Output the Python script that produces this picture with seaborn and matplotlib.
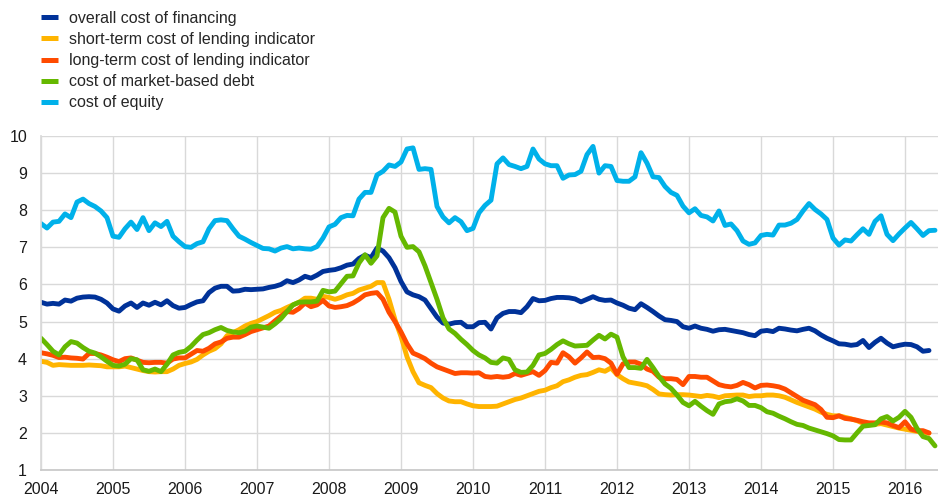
import matplotlib
matplotlib.use('Agg')
import matplotlib.pyplot as plt
from matplotlib.lines import Line2D
import numpy as np
import pandas as pd
import seaborn as sns

# monthly series, starting January 2004
overall = [5.52, 5.47, 5.49, 5.47, 5.58, 5.55, 5.63, 5.66, 5.67, 5.66, 5.60, 5.50,
           5.34, 5.28, 5.42, 5.50, 5.38, 5.50, 5.44, 5.52, 5.45, 5.56, 5.43, 5.36,
           5.38, 5.46, 5.53, 5.56, 5.78, 5.90, 5.95, 5.95, 5.82, 5.83, 5.87, 5.86,
           5.87, 5.88, 5.92, 5.95, 6.00, 6.10, 6.05, 6.12, 6.22, 6.17, 6.25, 6.35,
           6.38, 6.40, 6.45, 6.52, 6.55, 6.70, 6.79, 6.72, 6.98, 6.90, 6.72, 6.45,
           6.08, 5.80, 5.72, 5.67, 5.58, 5.35, 5.12, 4.96, 4.93, 4.97, 4.98, 4.86,
           4.86, 4.97, 4.98, 4.80, 5.10, 5.22, 5.27, 5.27, 5.24, 5.40, 5.62, 5.56,
           5.57, 5.62, 5.65, 5.65, 5.64, 5.61, 5.53, 5.60, 5.67, 5.60, 5.57, 5.58,
           5.50, 5.44, 5.36, 5.32, 5.48, 5.38, 5.27, 5.15, 5.05, 5.03, 5.00, 4.86,
           4.82, 4.88, 4.82, 4.79, 4.74, 4.78, 4.79, 4.76, 4.73, 4.70, 4.65, 4.62,
           4.74, 4.76, 4.73, 4.82, 4.80, 4.77, 4.75, 4.79, 4.82, 4.75, 4.64, 4.55,
           4.48, 4.40, 4.39, 4.36, 4.38, 4.49, 4.30, 4.44, 4.55, 4.42, 4.32, 4.36,
           4.39, 4.38, 4.32, 4.20, 4.22]

short_term = [3.93, 3.90, 3.82, 3.84, 3.83, 3.82, 3.82, 3.82, 3.83, 3.82, 3.81, 3.78,
              3.78, 3.78, 3.80, 3.76, 3.72, 3.68, 3.65, 3.64, 3.65, 3.65, 3.72, 3.82,
              3.87, 3.91, 3.98, 4.10, 4.20, 4.27, 4.40, 4.62, 4.70, 4.78, 4.88, 4.95,
              5.00, 5.08, 5.16, 5.25, 5.30, 5.38, 5.45, 5.52, 5.63, 5.63, 5.60, 5.68,
              5.65, 5.60, 5.65, 5.72, 5.76, 5.85, 5.90, 5.95, 6.05, 6.05, 5.60, 5.05,
              4.60, 4.05, 3.65, 3.35, 3.28, 3.22, 3.06, 2.94, 2.86, 2.84, 2.84, 2.78,
              2.73, 2.71, 2.71, 2.71, 2.72, 2.78, 2.84, 2.90, 2.94, 3.00, 3.06, 3.12,
              3.15, 3.22, 3.27, 3.38, 3.43, 3.50, 3.55, 3.57, 3.63, 3.70, 3.66, 3.75,
              3.57, 3.46, 3.37, 3.34, 3.31, 3.27, 3.17, 3.05, 3.03, 3.02, 3.03, 3.03,
              3.02, 3.00, 2.98, 3.01, 2.99, 2.95, 3.00, 3.01, 3.02, 3.02, 2.98, 3.00,
              3.00, 3.02, 3.02, 3.00, 2.96, 2.89, 2.82, 2.76, 2.70, 2.64, 2.56, 2.50,
              2.46, 2.46, 2.42, 2.38, 2.33, 2.26, 2.22, 2.23, 2.25, 2.21, 2.17, 2.13,
              2.10, 2.07, 2.04, 2.02, 1.99]

long_term = [4.16, 4.13, 4.09, 4.03, 4.04, 4.02, 4.01, 3.99, 4.14, 4.14, 4.10, 4.04,
             3.97, 3.92, 4.00, 4.02, 3.96, 3.90, 3.89, 3.90, 3.90, 3.88, 3.99, 4.02,
             4.02, 4.12, 4.22, 4.20, 4.28, 4.40, 4.45, 4.55, 4.58, 4.58, 4.65, 4.73,
             4.78, 4.83, 4.88, 5.02, 5.15, 5.27, 5.25, 5.35, 5.50, 5.40, 5.45, 5.57,
             5.42, 5.38, 5.40, 5.43, 5.50, 5.60, 5.72, 5.76, 5.78, 5.60, 5.25, 5.00,
             4.72, 4.40, 4.15, 4.08, 4.00, 3.88, 3.78, 3.72, 3.66, 3.60, 3.62, 3.62,
             3.61, 3.62, 3.52, 3.50, 3.52, 3.50, 3.52, 3.60, 3.55, 3.60, 3.65, 3.55,
             3.68, 3.90, 3.88, 4.16, 4.05, 3.88, 4.02, 4.18, 4.03, 4.04, 4.00, 3.88,
             3.58, 3.86, 3.91, 3.91, 3.85, 3.72, 3.66, 3.50, 3.46, 3.46, 3.44, 3.30,
             3.52, 3.52, 3.50, 3.50, 3.40, 3.30, 3.26, 3.24, 3.28, 3.36, 3.30, 3.21,
             3.28, 3.29, 3.27, 3.24, 3.18, 3.08, 2.98, 2.88, 2.82, 2.76, 2.63, 2.42,
             2.41, 2.46, 2.39, 2.37, 2.34, 2.30, 2.27, 2.27, 2.29, 2.27, 2.20, 2.14,
             2.30, 2.10, 2.06, 2.06, 2.00]

market_debt = [4.55, 4.38, 4.20, 4.10, 4.32, 4.46, 4.42, 4.30, 4.20, 4.15, 4.05, 3.93,
               3.82, 3.80, 3.85, 4.00, 3.97, 3.70, 3.66, 3.72, 3.65, 3.85, 4.10, 4.17,
               4.20, 4.33, 4.50, 4.65, 4.70, 4.78, 4.84, 4.76, 4.72, 4.70, 4.74, 4.85,
               4.88, 4.85, 4.82, 4.94, 5.08, 5.27, 5.45, 5.52, 5.53, 5.53, 5.55, 5.84,
               5.80, 5.82, 6.02, 6.22, 6.23, 6.58, 6.80, 6.57, 6.77, 7.80, 8.05, 7.95,
               7.30, 7.00, 7.02, 6.88, 6.50, 6.05, 5.60, 5.10, 4.80, 4.68, 4.52, 4.38,
               4.22, 4.10, 4.02, 3.90, 3.88, 4.02, 3.98, 3.70, 3.63, 3.64, 3.82, 4.10,
               4.14, 4.25, 4.38, 4.48, 4.40, 4.34, 4.35, 4.36, 4.50, 4.63, 4.53, 4.66,
               4.58, 4.05, 3.76, 3.76, 3.74, 3.98, 3.76, 3.52, 3.32, 3.20, 3.02, 2.82,
               2.73, 2.85, 2.72, 2.60, 2.50, 2.78, 2.84, 2.86, 2.92, 2.86, 2.74, 2.74,
               2.68, 2.57, 2.53, 2.45, 2.38, 2.30, 2.23, 2.20, 2.13, 2.08, 2.03, 1.98,
               1.92, 1.82, 1.81, 1.81, 2.00, 2.18, 2.20, 2.22, 2.38, 2.44, 2.32, 2.42,
               2.58, 2.42, 2.12, 1.90, 1.85, 1.65]

equity = [7.64, 7.52, 7.68, 7.70, 7.90, 7.80, 8.22, 8.30, 8.18, 8.10, 7.98, 7.80,
          7.30, 7.27, 7.50, 7.68, 7.48, 7.80, 7.45, 7.66, 7.56, 7.70, 7.30, 7.15,
          7.02, 7.00, 7.10, 7.15, 7.50, 7.72, 7.74, 7.72, 7.50, 7.30, 7.22, 7.13,
          7.05, 6.97, 6.96, 6.90, 6.98, 7.02, 6.96, 6.98, 6.96, 6.95, 7.02, 7.25,
          7.55, 7.62, 7.80, 7.86, 7.85, 8.30, 8.48, 8.48, 8.95, 9.05, 9.22, 9.18,
          9.30, 9.65, 9.68, 9.10, 9.12, 9.10, 8.10, 7.82, 7.66, 7.80, 7.69, 7.45,
          7.51, 7.93, 8.13, 8.27, 9.25, 9.41, 9.23, 9.18, 9.12, 9.18, 9.65, 9.38,
          9.25, 9.20, 9.20, 8.86, 8.95, 8.96, 9.05, 9.50, 9.72, 9.00, 9.20, 9.18,
          8.80, 8.78, 8.78, 8.90, 9.55, 9.27, 8.90, 8.88, 8.64, 8.48, 8.40, 8.11,
          7.93, 8.04, 7.86, 7.82, 7.71, 7.98, 7.59, 7.63, 7.45, 7.17, 7.08, 7.12,
          7.32, 7.35, 7.33, 7.60, 7.60, 7.65, 7.75, 7.98, 8.18, 8.02, 7.90, 7.75,
          7.25, 7.06, 7.20, 7.17, 7.34, 7.50, 7.35, 7.70, 7.85, 7.35, 7.18, 7.36,
          7.52, 7.67, 7.50, 7.32, 7.45, 7.46]

labels = ['overall cost of financing', 'short-term cost of lending indicator',
          'long-term cost of lending indicator', 'cost of market-based debt',
          'cost of equity']
colors = ['#003299', '#ffb400', '#ff4b00', '#65b800', '#00b1ea']
years = list(range(2004, 2017))

frames = []
for name, vals in zip(labels, [overall, short_term, long_term, market_debt, equity]):
    t = 2004 + np.arange(len(vals)) / 12.0
    frames.append(pd.DataFrame({'year': t, 'value': vals, 'series': name}))
df = pd.concat(frames, ignore_index=True)

sns.set_theme(style='white')
plt.rcParams['font.family'] = ['Liberation Sans', 'DejaVu Sans']

fig = plt.figure(figsize=(9.38, 4.95), dpi=100)
ax = fig.add_axes([41/938, 25/495, 897/938, 334/495])

sns.lineplot(data=df, x='year', y='value', hue='series', hue_order=labels,
             palette=colors, linewidth=3.5, estimator=None, legend=False, ax=ax)

ax.set_xlim(2004, 2004 + 149.5/12)
ax.set_ylim(1, 10)
ax.set_xticks(years)
ax.set_xticklabels([str(y) for y in years])
ax.set_yticks(range(1, 11))
ax.grid(True, color='#d9d9d9', linewidth=1.0)
ax.set_axisbelow(True)
ax.set_xlabel('')
ax.set_ylabel('')
for s in ['top', 'right']:
    ax.spines[s].set_visible(False)
ax.spines['left'].set_color('#d9d9d9')
ax.spines['bottom'].set_color('#c8c8c8')
ax.tick_params(axis='both', length=0, labelsize=11.5, colors='#1a1a1a')
ax.tick_params(axis='x', pad=8.5)
ax.tick_params(axis='y', pad=10)

handles = [Line2D([], [], color=c, linewidth=3.6, solid_capstyle='butt') for c in colors]
fig.legend(handles, labels, loc='upper left', bbox_to_anchor=(41/938, 1 - 11/495),
           frameon=False, fontsize=11.5, handlelength=1.06, handletextpad=0.7,
           labelspacing=0.38, borderpad=0, borderaxespad=0)

fig.savefig('out.png', dpi=100)
